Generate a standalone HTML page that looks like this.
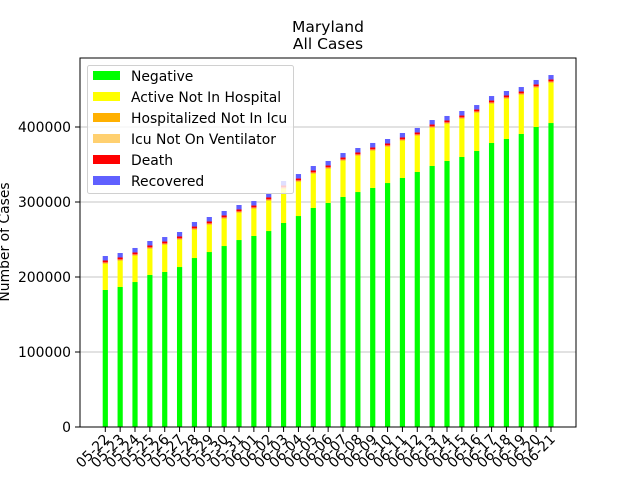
<!DOCTYPE html>
<html><head><meta charset="utf-8"><style>
body{margin:0;background:#fff}
text{font-family:"DejaVu Sans","Liberation Sans",sans-serif}
</style></head><body>
<svg id="chart" width="640" height="480" xmlns="http://www.w3.org/2000/svg">
<rect width="640" height="480" fill="#fff"/>
<text x="328" y="32" font-size="15.5" text-anchor="middle">Maryland</text>
<text x="328" y="49" font-size="15.5" text-anchor="middle">All Cases</text>
<g id="grid"></g><g id="bars"></g><g id="axes"></g>
<text transform="translate(9,242) rotate(-90)" font-size="13.9" text-anchor="middle">Number of Cases</text>
<g id="legend"></g>
</svg>
<script>
const dates=["05-22","05-23","05-24","05-25","05-26","05-27","05-28","05-29","05-30","05-31","06-01","06-02","06-03","06-04","06-05","06-06","06-07","06-08","06-09","06-10","06-11","06-12","06-13","06-14","06-15","06-16","06-17","06-18","06-19","06-20","06-21"];
const negative=[182700,186700,193300,202700,206700,213300,225300,233300,241300,249300,254700,261300,272000,281300,292000,298700,306700,313300,318700,325300,332000,340000,348000,354700,360000,368000,378700,384000,390700,400000,405300];
const active=[35100,35100,35200,35100,36400,36500,37800,36500,36500,36500,36400,40500,45800,45800,45800,45800,48400,48500,49800,48500,49800,48500,51100,49800,51100,51100,52400,53800,52400,52500,53800];
const hospitalized=[1000,1000,1000,1000,1000,1000,1000,1000,1000,1000,1000,1000,1000,1000,1000,1000,1000,1000,1000,1000,1000,1000,1000,1000,1000,1000,1000,1000,1000,1000,1000];
const icu=[500,500,500,500,500,500,500,500,500,500,500,500,500,500,500,500,500,500,500,500,500,500,500,500,500,500,500,500,500,500,500];
const death=[2700,2700,2700,2700,2700,2700,2700,2700,2700,2700,2700,2700,2700,2700,2700,2700,2700,2700,2700,2700,2700,2700,2700,2700,2700,2700,2700,2700,2700,2700,2700];
const recovered=[6000,6000,6000,6000,6000,6000,6000,6000,6000,6000,6000,6000,6000,6000,6000,6000,6000,6000,6000,6000,6000,6000,6000,6000,6000,6000,6000,6000,6000,6000,6000];
const yTicks=[0,100000,200000,300000,400000];
const seriesNames=["Negative","Active Not In Hospital","Hospitalized Not In Icu","Icu Not On Ventilator","Death","Recovered"];
const seriesColors=["#00ff00","#ffff00","#ffb000","#ffd070","#ff0000","#6060ff"];
const series=[negative,active,hospitalized,icu,death,recovered];
const NS="http://www.w3.org/2000/svg";
const L=80,R=576,T=58,B=427;
const yMax=492000;
function y(v){return B-(v/yMax)*(B-T);}
function x(i){return 105.3+i*(551-105.3)/(dates.length-1);}
function mk(tag,attrs,parent){const e=document.createElementNS(NS,tag);for(const k in attrs)e.setAttribute(k,attrs[k]);parent.appendChild(e);return e;}
const grid=document.getElementById('grid'),bars=document.getElementById('bars'),axes=document.getElementById('axes'),leg=document.getElementById('legend');
yTicks.forEach(t=>{
  const g=mk('line',{x1:L,x2:R,y1:y(t),y2:y(t),stroke:'#b0b0b0','stroke-width':0.8},grid);
  
  
  mk('line',{x1:L-5,x2:L,y1:y(t),y2:y(t),stroke:'#000','stroke-width':1},axes);
  const tx=mk('text',{x:L-9,y:y(t)+5,'font-size':13.9,'text-anchor':'end'},axes);
  tx.textContent=t;
  
  
});
const bw=5.2;
dates.forEach((d,i)=>{
  let base=0;
  series.forEach((s,k)=>{
    const v=s[i];
    const r=mk('rect',{x:x(i)-bw/2,y:y(base+v),width:bw,height:y(base)-y(base+v),fill:seriesColors[k]},bars);
    
    
    base+=v;
  });
  mk('line',{x1:x(i),x2:x(i),y1:B,y2:B+5,stroke:'#000','stroke-width':1},axes);
  const tx=mk('text',{transform:`translate(${x(i)+5},${B+13}) rotate(-45)`,'font-size':13.9,'text-anchor':'end'},axes);
  tx.textContent=d;
  
  
});
const frame=mk('rect',{x:L,y:T,width:R-L,height:B-T,fill:'none',stroke:'#000','stroke-width':1},axes);


const lb=mk('rect',{x:87.5,y:65.5,width:206,height:128,rx:2,fill:'rgba(255,255,255,0.8)',stroke:'#d0d0d0','stroke-width':1},leg);


seriesNames.forEach((n,k)=>{
  const yy=76+k*21;
  const sw=mk('rect',{x:93,y:yy-5,width:27,height:9,fill:seriesColors[k]},leg);
  
  
  const t=mk('text',{x:131,y:yy+5,'font-size':13.9},leg);
  t.textContent=n;
  
  
});
</script>
</body></html>
